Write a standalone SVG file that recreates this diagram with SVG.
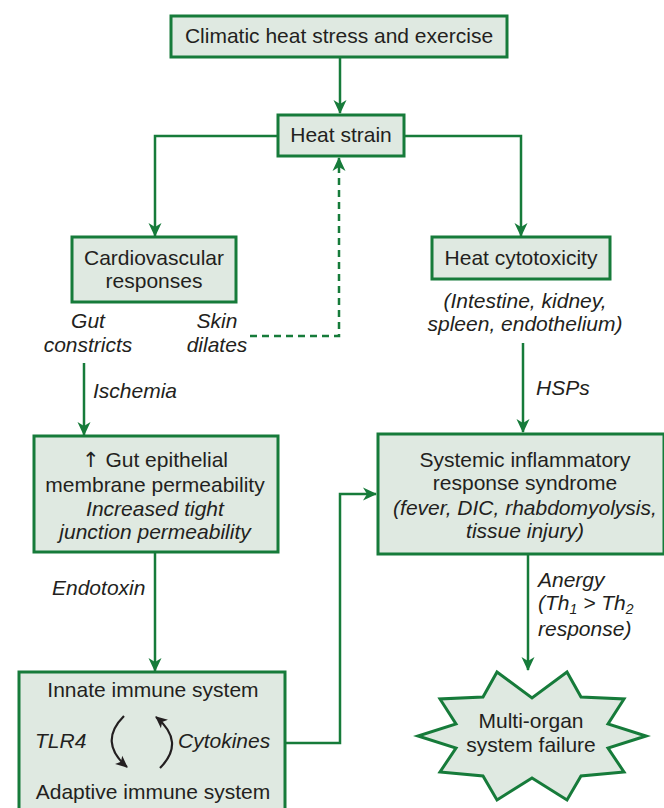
<svg xmlns="http://www.w3.org/2000/svg" width="664" height="808" viewBox="0 0 664 808">
<style>
.box{fill:#dfe9e1;stroke:#167b3a;stroke-width:3}
.ln{fill:none;stroke:#167b3a;stroke-width:2.5}
.dash{stroke-dasharray:7 5}
text{font-family:"Liberation Sans",Arial,sans-serif;font-size:21px;fill:#231f20}
.c{text-anchor:middle}
.i{font-style:italic}
.blk{fill:none;stroke:#231f20;stroke-width:2.2}
</style>
<defs>
<marker id="ah" viewBox="0 0 14 14" refX="13" refY="7" markerWidth="14" markerHeight="14" markerUnits="userSpaceOnUse" orient="auto">
<path d="M0,0.5 L14,7 L0,13.5 L4,7 z" fill="#167b3a"/>
</marker>
<marker id="bh" viewBox="0 0 12 12" refX="11" refY="6" markerWidth="12" markerHeight="12" markerUnits="userSpaceOnUse" orient="auto">
<path d="M0,0.5 L12,6 L0,11.5 L3,6 z" fill="#231f20"/>
</marker>
</defs>
<g id="connectors">
<path class="ln" d="M340,58 V113" marker-end="url(#ah)"/>
<path class="ln" d="M277,136 H155 V236" marker-end="url(#ah)"/>
<path class="ln" d="M404,136 H521 V236" marker-end="url(#ah)"/>
<path class="ln dash" d="M250,336 H339 V158" marker-end="url(#ah)"/>
<path class="ln" d="M84,363 V435" marker-end="url(#ah)"/>
<path class="ln" d="M523,343 V432" marker-end="url(#ah)"/>
<path class="ln" d="M155,552 V671" marker-end="url(#ah)"/>
<path class="ln" d="M285,743 H340 V494 H376" marker-end="url(#ah)"/>
<path class="ln" d="M528,554 V670" marker-end="url(#ah)"/>
<text class="i" x="93" y="398">Ischemia</text>
<text class="i" x="536" y="395">HSPs</text>
<text class="i" x="52" y="595">Endotoxin</text>
<text class="i" x="538" y="587">Anergy</text>
<text class="i" x="538" y="610">(Th<tspan font-size="14" dy="4">1</tspan><tspan dy="-4"> &gt; Th</tspan><tspan font-size="14" dy="4">2</tspan></text>
<text class="i" x="538" y="636">response)</text>
</g>
<g id="climatic">
<rect class="box" x="171" y="16" width="336" height="41"/>
<text class="c" x="339" y="43">Climatic heat stress and exercise</text>
</g>
<g id="heat-strain">
<rect class="box" x="278" y="115" width="126" height="41"/>
<text class="c" x="341" y="142">Heat strain</text>
</g>
<g id="cardiovascular">
<rect class="box" x="72" y="237" width="164" height="65"/>
<text class="c" x="154" y="265">Cardiovascular</text>
<text class="c" x="154" y="288">responses</text>
</g>
<g id="gut-constricts">
<text class="c i" x="88" y="328">Gut</text>
<text class="c i" x="88" y="352">constricts</text>
</g>
<g id="skin-dilates">
<text class="c i" x="217" y="328">Skin</text>
<text class="c i" x="217" y="352">dilates</text>
</g>
<g id="heat-cytotoxicity">
<rect class="box" x="432" y="237" width="178" height="42"/>
<text class="c" x="521" y="265">Heat cytotoxicity</text>
<text class="c i" x="525" y="308">(Intestine, kidney,</text>
<text class="c i" x="525" y="331">spleen, endothelium)</text>
</g>
<g id="gut-permeability">
<rect class="box" x="34" y="436" width="244" height="116"/>
<text class="c" x="155" y="467"><tspan font-family="'DejaVu Sans',sans-serif" font-size="21" fill="#231f20">↑</tspan> Gut epithelial</text>
<text class="c" x="155" y="492">membrane permeability</text>
<text class="c i" x="155" y="516">Increased tight</text>
<text class="c i" x="155" y="539">junction permeability</text>
</g>
<g id="sirs">
<rect class="box" x="378" y="434" width="286" height="120"/>
<text class="c" x="525" y="467">Systemic inflammatory</text>
<text class="c" x="525" y="490">response syndrome</text>
<text class="c i" x="525" y="515">(fever, DIC, rhabdomyolysis,</text>
<text class="c i" x="525" y="538">tissue injury)</text>
</g>
<g id="immune">
<rect class="box" x="19" y="672" width="266" height="150"/>
<text class="c" x="153" y="697">Innate immune system</text>
<text class="i" x="35" y="748">TLR4</text>
<text class="i" x="178" y="748">Cytokines</text>
<text class="c" x="153" y="799">Adaptive immune system</text>
<path class="blk" d="M124,716 Q98,742 127,767" marker-end="url(#bh)"/>
<path class="blk" d="M160,768 Q186,742 156,717" marker-end="url(#bh)"/>
</g>
<g id="multi-organ">
<polygon class="box" points="646,736 608,748 624,772 581,776 567,800 532,778 497,800 483,776 440,772 456,748 418,736 456,724 440,699 483,697 497,672 532,698 567,672 581,697 624,699 608,724"/>
<text class="c" x="531" y="728">Multi-organ</text>
<text class="c" x="531" y="752">system failure</text>
</g>
</svg>
